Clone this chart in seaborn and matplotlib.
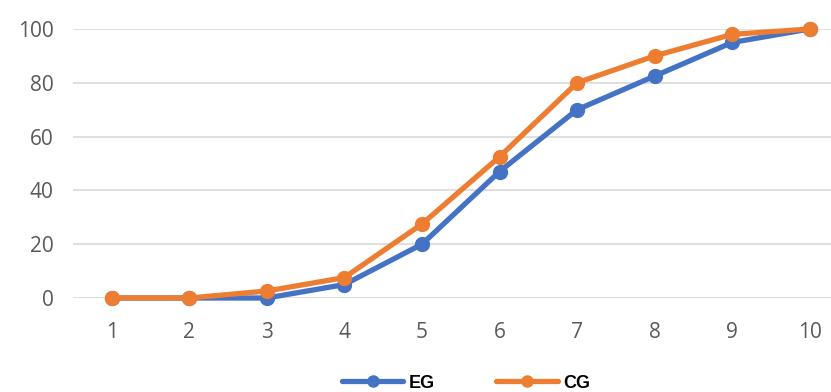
import matplotlib
matplotlib.use("Agg")
import matplotlib.pyplot as plt
import pandas as pd
import seaborn as sns

# Cumulative percentage by session for both groups
sessions = [1, 2, 3, 4, 5, 6, 7, 8, 9, 10]
eg_values = [0, 0, 0, 5, 20, 47, 70, 82.5, 95, 100]
cg_values = [0, 0, 2.6, 7.6, 27.5, 52.5, 80, 90, 98, 100]
group_names = ["EG", "CG"]
group_colors = ["#4472C4", "#ED7D31"]
y_ticks = [0, 20, 40, 60, 80, 100]

df = pd.concat([
    pd.DataFrame({"session": sessions, "value": eg_values, "group": "EG"}),
    pd.DataFrame({"session": sessions, "value": cg_values, "group": "CG"}),
])

sns.set_style("white")
plt.rcParams["font.family"] = ["Open Sans", "DejaVu Sans"]

W, H = 831, 392
fig = plt.figure(figsize=(W / 100, H / 100), dpi=100)
# plot area in pixel terms: left 73, y=0 at 298, y=100 at 29, one category = 77.55 px
left_px, zero_px, top_px, step_px = 73, 298, 29, 77.55
ax = fig.add_axes([left_px / W, (H - zero_px) / H, 10 * step_px / W, (zero_px - top_px) / H])

sns.lineplot(
    data=df, x="session", y="value", hue="group", hue_order=group_names,
    palette=group_colors, marker="o", markersize=11, markeredgewidth=0,
    linewidth=3.8, ax=ax, legend=False, clip_on=False, zorder=3,
)
for line in ax.lines:
    line.set_clip_on(False)
    line.set_solid_capstyle("round")
    line.set_solid_joinstyle("round")

ax.set_xlim(0.5, 10.5)
ax.set_ylim(0, 100)
ax.set_xticks(sessions)
ax.set_yticks(y_ticks)
ax.set_xlabel("")
ax.set_ylabel("")
ax.grid(axis="y", color="#D9D9D9", linewidth=1.2)
ax.grid(axis="x", visible=False)
for s in ax.spines.values():
    s.set_visible(False)
ax.tick_params(axis="both", length=0, labelsize=15, labelcolor="#595959")
ax.tick_params(axis="y", pad=14)
ax.tick_params(axis="x", pad=17)

handles = [
    plt.Line2D([], [], color=c, linewidth=3.8, marker="o", markersize=9, markeredgewidth=0)
    for c in group_colors
]
fig.legend(
    handles, group_names, loc="center", bbox_to_anchor=(466 / W, (H - 383) / H),
    ncol=2, frameon=False, handlelength=3.4, handletextpad=0.3, columnspacing=3.4,
    borderpad=0, labelcolor="black",
    prop={"family": ["Liberation Sans", "DejaVu Sans"], "weight": "bold", "size": 13},
)

fig.savefig("out.png", dpi=100)
